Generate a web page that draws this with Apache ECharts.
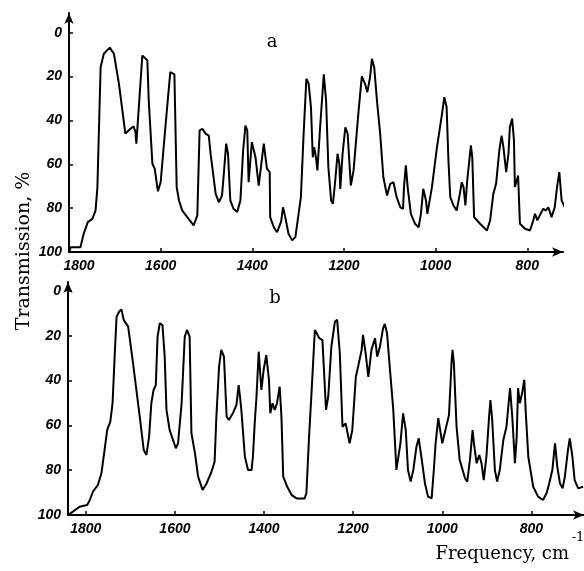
<!DOCTYPE html>
<html>
<head>
<meta charset="utf-8">
<script src="https://cdn.jsdelivr.net/npm/echarts@6/dist/echarts.min.js"></script>
<style>html,body{margin:0;padding:0;background:#fff;}#c{width:584px;height:571px;}</style>
</head>
<body>
<div id="c"></div>
<script>
// Spectrum a: [frequency cm^-1, transmission %]
const spectrumA = [[1800,100],[1796,97.8],[1775,97.8],[1768,91.7],[1759,86.4],[1749,84.9],[1742,81],[1738,70.4],[1731,15.7],[1724,9.6],[1711,6.8],[1702,9.6],[1691,23.3],[1677,46],[1666,43.8],[1659,42.7],[1655,45.3],[1653,50.6],[1640,10.4],[1637,10.4],[1629,12.6],[1626,30.9],[1618,59.8],[1613,62],[1606,72.3],[1600,68.2],[1589,41.5],[1579,18],[1575,17.2],[1570,19],[1565,70.4],[1560,76.5],[1553,81],[1542,84.1],[1528,87.9],[1520,83.3],[1515,44.6],[1509,43.8],[1502,46],[1495,46.9],[1491,55.2],[1480,73.4],[1473,77.3],[1466,74.2],[1461,61.3],[1457,50.6],[1453,55.2],[1448,76.5],[1441,80.3],[1433,81.8],[1426,76.5],[1420,53.7],[1415,42.3],[1411,44.6],[1408,68.2],[1401,49.9],[1393,56.8],[1386,69.7],[1375,50.6],[1368,62],[1362,63.6],[1361,84.1],[1353,88.7],[1346,91],[1337,86],[1333,79.6],[1328,84.1],[1321,91.7],[1313,94.7],[1306,93.2],[1299,82.6],[1294,75],[1288,46],[1282,21],[1277,23.3],[1272,33.9],[1268,56.8],[1265,52.2],[1261,57],[1258,62.8],[1252,43.1],[1244,19],[1239,30.9],[1234,61.3],[1228,76.5],[1224,78],[1219,67.4],[1214,55.2],[1210,59.8],[1208,71.2],[1203,55.2],[1197,43.1],[1192,46],[1185,69.7],[1179,62.8],[1168,35.4],[1161,19.9],[1154,23.3],[1149,27.1],[1143,20.3],[1139,11.9],[1134,15.7],[1128,30.9],[1121,46],[1114,65.9],[1106,74.2],[1099,68.9],[1092,68.2],[1085,75],[1077,79.6],[1071,80.3],[1069,70.4],[1065,60.5],[1061,70.4],[1054,82.6],[1045,87.1],[1037,88.7],[1032,82.6],[1027,71.2],[1021,76.5],[1018,82.6],[1008,70.4],[997,52.2],[986,37],[981,29.4],[976,33.9],[972,58.3],[968,75],[961,78.8],[954,81.1],[947,73.4],[943,68.2],[939,70.4],[935,78.8],[931,67.4],[923,51.4],[920,56.8],[916,84.1],[903,87.1],[888,90.2],[881,85.6],[874,73.4],[868,68.9],[865,69],[861,53.7],[856,46.9],[852,52.2],[846,63.6],[841,55.2],[838,43.1],[833,39.2],[829,49.1],[827,70.4],[823,67.4],[820,65.1],[816,87.1],[805,89.4],[794,90.2],[788,86.4],[783,82.6],[778,85.6],[771,82.6],[765,80.3],[760,81.1],[754,79.6],[747,84.1],[740,79.6],[735,70.4],[730,63.6],[725,76.5],[718,79.6],[711,82.6],[702,75.7]];

// Spectrum b: [frequency cm^-1, transmission %]
const spectrumB = [[1840,100],[1829,98.5],[1814,96.3],[1797,95.5],[1791,93.3],[1784,89.6],[1773,86.6],[1765,81.4],[1758,71],[1752,62],[1745,58.3],[1740,50.1],[1735,27.8],[1731,11.5],[1725,9.2],[1720,8.2],[1715,12.9],[1705,15.9],[1694,32.3],[1679,56.1],[1670,71],[1664,73.2],[1658,65],[1653,50.1],[1648,44.2],[1643,42],[1639,20.4],[1634,14.4],[1628,15.2],[1623,29.3],[1619,53.1],[1612,62],[1598,70.2],[1593,68],[1585,50.1],[1578,20.4],[1573,17.4],[1567,20.4],[1563,63.5],[1555,72.5],[1548,82.9],[1538,88.8],[1529,85.9],[1518,80.7],[1511,76.2],[1507,56.1],[1501,33.8],[1496,26.3],[1490,29.3],[1484,56.1],[1479,57.6],[1470,54.6],[1462,50.9],[1457,42],[1454,47.2],[1451,53.1],[1443,74],[1436,79.9],[1428,79.9],[1425,74],[1421,59.1],[1417,47.2],[1412,27.1],[1406,44.2],[1401,35.3],[1395,28.6],[1389,39.7],[1386,54.6],[1381,50.1],[1376,53.1],[1371,50.1],[1365,42.7],[1361,56.1],[1357,82.9],[1348,87.4],[1338,91.1],[1327,92.6],[1309,92.6],[1305,90.3],[1299,65],[1294,47.2],[1286,17.4],[1282,16.7],[1276,21.1],[1269,21.9],[1261,53.1],[1256,47.2],[1249,24.9],[1241,13.7],[1236,12.9],[1230,27.8],[1224,60.6],[1217,59.1],[1213,58.3],[1208,68],[1202,62.1],[1194,38.3],[1189,33.8],[1181,26.3],[1178,19.6],[1172,27.8],[1166,38.3],[1159,26.3],[1151,21.1],[1146,29.3],[1140,24.9],[1133,16.7],[1129,14.7],[1124,18.9],[1118,33.8],[1110,53.1],[1103,79.9],[1099,79.9],[1094,68],[1088,54.6],[1082,62.1],[1077,79.9],[1071,85.1],[1065,79.9],[1058,69.5],[1053,65.8],[1047,74],[1039,85.8],[1032,91.8],[1024,92.6],[1019,79.9],[1015,68],[1009,56.8],[1006,60.6],[1000,68],[993,62.1],[985,55.4],[979,30.8],[977,26.3],[974,32.3],[968,60.6],[961,75.4],[949,83.6],[944,85.1],[938,75.4],[932,62.1],[929,68],[923,76.9],[917,73.2],[912,76.9],[907,84.4],[901,74],[895,56.1],[892,48.7],[888,57.6],[882,79.9],[877,85.1],[871,79.9],[863,66.5],[856,60.6],[848,43.4],[843,56.1],[837,76.9],[833,65],[830,43.4],[826,50.1],[821,45.7],[816,39.7],[813,53.1],[807,74],[796,87.4],[785,91.8],[774,93.3],[766,90.3],[760,85.8],[753,79.9],[747,68],[742,78.4],[736,85.8],[730,88.1],[725,82.9],[718,71],[714,65.8],[708,74],[703,84.4],[695,88.1],[684,87.4]];

const freqTicks = [1800, 1600, 1400, 1200, 1000, 800];
const transTicks = [0, 20, 40, 60, 80, 100];
const panelLabels = ['a', 'b'];

const tickFont = {
  fontFamily: '"Liberation Sans Narrow", "Liberation Sans", Arial, sans-serif',
  fontStyle: 'italic', fontWeight: 'bold', fontSize: 14, color: '#000'
};
const serif = '"DejaVu Serif", "Liberation Serif", serif';
const axisLine = (sym) => ({ show: true, onZero: false, symbol: sym, symbolSize: [7, 11], lineStyle: { color: '#000', width: 2 } });

function xAxisFor(gridIndex, min, max, firstPad) {
  return {
    type: 'value', gridIndex, min, max, inverse: true, position: 'bottom',
    axisLine: axisLine(['none', 'arrow']),
    axisTick: { show: true, inside: true, length: 4, customValues: freqTicks, lineStyle: { color: '#000', width: 1.5 } },
    axisLabel: Object.assign({}, tickFont, {
      customValues: freqTicks, margin: 7,
      formatter: v => (v === 1800 && firstPad) ? '{p|1800}' : String(v),
      rich: { p: Object.assign({}, tickFont, { padding: [0, 0, 0, firstPad || 0] }) }
    }),
    splitLine: { show: false }
  };
}
function yAxisFor(gridIndex, min) {
  return {
    type: 'value', gridIndex, min, max: 100, inverse: true, position: 'left',
    axisLine: axisLine(['none', 'arrow']),
    axisTick: { show: true, inside: true, length: 4, customValues: transTicks, lineStyle: { color: '#000', width: 1.5 } },
    axisLabel: Object.assign({}, tickFont, { customValues: transTicks, margin: 7 }),
    splitLine: { show: false }
  };
}

const chart = echarts.init(document.getElementById('c'), null, { renderer: 'canvas' });
chart.setOption({
  backgroundColor: '#fff',
  animation: false,
  grid: [
    { left: 69, top: 13, width: 494, height: 239 },
    { left: 68, top: 282, width: 516, height: 233 }
  ],
  xAxis: [xAxisFor(0, 722, 1800, 20), xAxisFor(1, 682, 1840, 0)],
  yAxis: [yAxisFor(0, -9), yAxisFor(1, -4)],
  series: [
    { type: 'line', xAxisIndex: 0, yAxisIndex: 0, data: spectrumA, showSymbol: false, clip: false,
      lineStyle: { color: '#000', width: 2 }, itemStyle: { color: '#000' } },
    { type: 'line', xAxisIndex: 1, yAxisIndex: 1, data: spectrumB, showSymbol: false, clip: false,
      lineStyle: { color: '#000', width: 2 }, itemStyle: { color: '#000' } }
  ],
  graphic: [
    { type: 'text', x: 272, y: 42, style: { text: panelLabels[0], font: '18px ' + serif, fill: '#000', align: 'center', verticalAlign: 'middle' } },
    { type: 'text', x: 275, y: 298, style: { text: panelLabels[1], font: '18px ' + serif, fill: '#000', align: 'center', verticalAlign: 'middle' } },
    { type: 'text', x: 24, y: 251, rotation: Math.PI / 2, style: { text: 'Transmission, %', font: '19px ' + serif, fill: '#000', align: 'center', verticalAlign: 'middle' } },
    { type: 'text', x: 569, y: 554, style: { text: 'Frequency, cm', font: '18px ' + serif, fill: '#000', align: 'right', verticalAlign: 'middle' } },
    { type: 'text', x: 578, y: 538, style: { text: '-1', font: '13px ' + serif, fill: '#000', align: 'center', verticalAlign: 'middle' } }
  ]
});
</script>
</body>
</html>
